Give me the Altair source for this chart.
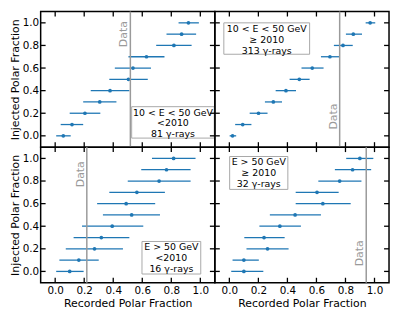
import altair as alt
import pandas as pd

# ---------------- data ----------------
INJ = [0.0, 0.1, 0.2, 0.3, 0.4, 0.5, 0.6, 0.7, 0.8, 0.9, 1.0]

# 10 < E < 50 GeV, <2010
REC_TL = [0.056, 0.116, 0.205, 0.307, 0.378, 0.505, 0.536, 0.629, 0.818, 0.871, 0.918]
LO_TL = [0.007, 0.038, 0.100, 0.193, 0.245, 0.373, 0.411, 0.505, 0.696, 0.767, 0.850]
HI_TL = [0.107, 0.193, 0.311, 0.422, 0.511, 0.638, 0.660, 0.753, 0.940, 0.971, 0.990]
DATA_TL = 0.518

# 10 < E < 50 GeV, >=2010
REC_TR = [0.022, 0.092, 0.201, 0.303, 0.390, 0.482, 0.571, 0.693, 0.783, 0.854, 0.970]
LO_TR = [0.002, 0.040, 0.140, 0.245, 0.319, 0.415, 0.497, 0.631, 0.720, 0.803, 0.939]
HI_TR = [0.047, 0.152, 0.263, 0.363, 0.459, 0.553, 0.649, 0.760, 0.850, 0.914, 1.005]
DATA_TR = 0.760

# E > 50 GeV, <2010
REC_BL = [0.100, 0.163, 0.271, 0.318, 0.393, 0.527, 0.489, 0.563, 0.716, 0.767, 0.816]
LO_BL = [0.007, 0.029, 0.073, 0.127, 0.185, 0.329, 0.289, 0.373, 0.500, 0.593, 0.667]
HI_BL = [0.196, 0.300, 0.467, 0.511, 0.607, 0.722, 0.689, 0.756, 0.933, 0.933, 0.967]
DATA_BL = 0.218

# E > 50 GeV, >=2010
REC_BR = [0.100, 0.100, 0.263, 0.239, 0.348, 0.453, 0.644, 0.604, 0.760, 0.849, 0.899]
LO_BR = [0.013, 0.022, 0.118, 0.103, 0.207, 0.279, 0.457, 0.457, 0.613, 0.727, 0.805]
HI_BR = [0.234, 0.203, 0.408, 0.381, 0.493, 0.631, 0.836, 0.753, 0.910, 0.977, 0.992]
DATA_BR = 0.943

LABEL_TL = "10 < E < 50 GeV\n<2010\n81 γ-rays"
LABEL_TR = "10 < E < 50 GeV\n≥ 2010\n313 γ-rays"
LABEL_BL = "E > 50 GeV\n<2010\n16 γ-rays"
LABEL_BR = "E > 50 GeV\n≥ 2010\n32 γ-rays"

TICKS = [0.0, 0.2, 0.4, 0.6, 0.8, 1.0]
X_TITLE = "Recorded Polar Fraction"
Y_TITLE = "Injected Polar Fraction"

# ---------------- style ----------------
W, H = 176, 137
TL_LEN = 5
BLUE = "#1f77b4"
GREY = "#9a9a9a"
FONT = "DejaVu Sans"
XS = alt.Scale(domain=[-0.1, 1.1], nice=False, zero=False)
YS = alt.Scale(domain=[-0.1, 1.1], nice=False, zero=False)


def panel(rec, lo, hi, dline, dtext_y, label, box, show_x, show_y):
    if show_x:
        xaxis = alt.Axis(values=TICKS, format=".1f", ticks=False, domain=False,
                         grid=False, title=X_TITLE, labelPadding=3, titlePadding=2)
    else:
        xaxis = None
    if show_y:
        yaxis = alt.Axis(values=TICKS, format=".1f", ticks=False, domain=False,
                         grid=False, title=Y_TITLE, labelPadding=2, titlePadding=2,
                         minExtent=0)
    else:
        yaxis = None

    def X(f):
        return alt.X(f, scale=XS, axis=xaxis)

    def Y(f):
        return alt.Y(f, scale=YS, axis=yaxis)

    df = pd.DataFrame({"inj": INJ, "rec": rec, "lo": lo, "hi": hi})
    base = alt.Chart(df)

    err = base.mark_rule(color=BLUE, strokeWidth=1.3).encode(
        x=X("lo:Q"), x2="hi:Q", y=Y("inj:Q"))
    pts = base.mark_circle(color=BLUE, size=14, opacity=1).encode(
        x=X("rec:Q"), y=Y("inj:Q"))

    ddf = pd.DataFrame({"d": [dline], "ty": [dtext_y], "t": ["Data"]})
    dl = alt.Chart(ddf).mark_rule(color=GREY, strokeWidth=1.5).encode(x=X("d:Q"))
    dt = alt.Chart(ddf).mark_text(angle=270, align="center", baseline="bottom",
                                  dy=-1, fontSize=11, color=GREY, font=FONT).encode(
        x=X("d:Q"), y=Y("ty:Q"), text="t:N")

    x1, x2, y1, y2 = box
    bdf = pd.DataFrame({"x1": [x1], "x2": [x2], "y1": [y1], "y2": [y2],
                        "cx": [(x1 + x2) / 2], "t": [label]})
    rect = alt.Chart(bdf).mark_rect(fill="white", stroke="#a8a8a8", strokeWidth=1).encode(
        x=X("x1:Q"), x2="x2:Q", y=Y("y1:Q"), y2="y2:Q")
    txt = alt.Chart(bdf).mark_text(lineBreak="\n", fontSize=9.5, lineHeight=11,
                                   align="center", baseline="top", dy=1,
                                   color="black", font=FONT).encode(
        x=X("cx:Q"), y=Y("y2:Q"), text="t:N")

    tdf = pd.DataFrame({"t": TICKS})
    tb = alt.Chart(tdf)
    style = dict(color="black", strokeWidth=1.3)
    xb = tb.mark_rule(**style).encode(x=X("t:Q"), y=alt.value(H), y2=alt.value(H - TL_LEN))
    xt = tb.mark_rule(**style).encode(x=X("t:Q"), y=alt.value(0), y2=alt.value(TL_LEN))
    yl = tb.mark_rule(**style).encode(y=Y("t:Q"), x=alt.value(0), x2=alt.value(TL_LEN))
    yr = tb.mark_rule(**style).encode(y=Y("t:Q"), x=alt.value(W), x2=alt.value(W - TL_LEN))

    return alt.layer(err, pts, dl, dt, rect, txt, xb, xt, yl, yr).properties(width=W, height=H)


tl = panel(REC_TL, LO_TL, HI_TL, DATA_TL, 0.90, LABEL_TL, (0.527, 1.096, -0.02, 0.258), False, True)
tr = panel(REC_TR, LO_TR, HI_TR, DATA_TR, 0.17, LABEL_TR, (-0.038, 0.553, 0.722, 1.0), False, False)
bl = panel(REC_BL, LO_BL, HI_BL, DATA_BL, 0.86, LABEL_BL, (0.598, 1.003, -0.023, 0.265), True, True)
br = panel(REC_BR, LO_BR, HI_BR, DATA_BR, 0.16, LABEL_BR, (0.002, 0.403, 0.726, 1.017), True, False)

chart = alt.concat(tl, tr, bl, br, columns=2, spacing=0, bounds="flush").properties(
    padding={"left": 0, "top": 0, "right": 0, "bottom": 0}
).configure_view(
    stroke="black", strokeWidth=1.5
).configure_axis(
    labelFont=FONT, titleFont=FONT, labelFontSize=10.5, titleFontSize=11,
    labelColor="black", titleColor="black", titleFontWeight="normal",
).configure_text(font=FONT)

chart.save("out.html", embed_options={"renderer": "svg", "actions": False})
